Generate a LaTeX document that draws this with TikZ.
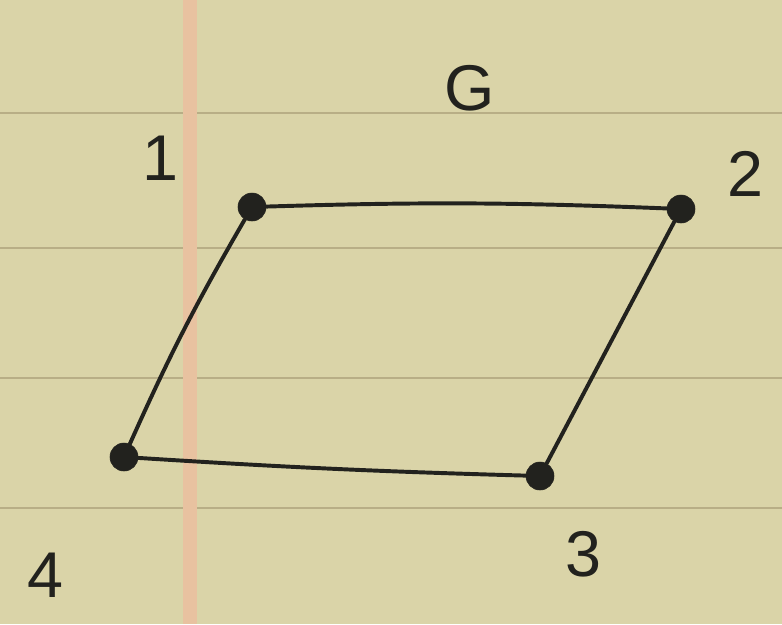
\documentclass[tikz,border=0pt]{standalone}
\usepackage{fontspec}
\setmainfont{Liberation Sans}
\definecolor{paper}{RGB}{218,212,168}
\definecolor{rule}{RGB}{184,174,134}
\definecolor{margin}{RGB}{232,194,160}
\definecolor{ink}{RGB}{34,34,30}

\begin{document}
\begin{tikzpicture}[
  x=0.25mm, y=-0.25mm,
  vertex/.style = {circle, fill=ink, draw=ink, inner sep=0pt, minimum size=7mm},
  edge/.style   = {ink, line width=2.8pt, line cap=round},
  lbl/.style    = {ink, font=\fontsize{46}{54}\selectfont, inner sep=0pt},
  ruled/.style  = {rule, line width=1.4pt},
]
  % the sheet of lined paper
  \fill[paper] (0,0) rectangle (782,624);
  \useasboundingbox (0,0) rectangle (782,624);
  \foreach \y in {113,248,378,508}
    \draw[ruled] (0,\y) -- (782,\y);
  \fill[margin] (183,0) rectangle (197,624);

  \node[vertex] (one)   at (252,207) {};
  \node[vertex] (two)   at (681,209) {};
  \node[vertex] (three) at (540,476) {};
  \node[vertex] (four)  at (124,457) {};

  \draw[edge] (one) to[bend left=2] (two);
  \draw[edge] (two) to (three);
  \draw[edge] (three) to[bend left=1] (four);
  \draw[edge] (four) to[bend left=3] (one);

  \node[lbl] (l1) at (160,158) {1};
  \node[lbl] (l2) at (745,174) {2};
  \node[lbl] (l3) at (583,554) {3};
  \node[lbl] (l4) at (45,575) {4};
  \node[lbl] (g)  at (470,88) {G};
\end{tikzpicture}
\end{document}
